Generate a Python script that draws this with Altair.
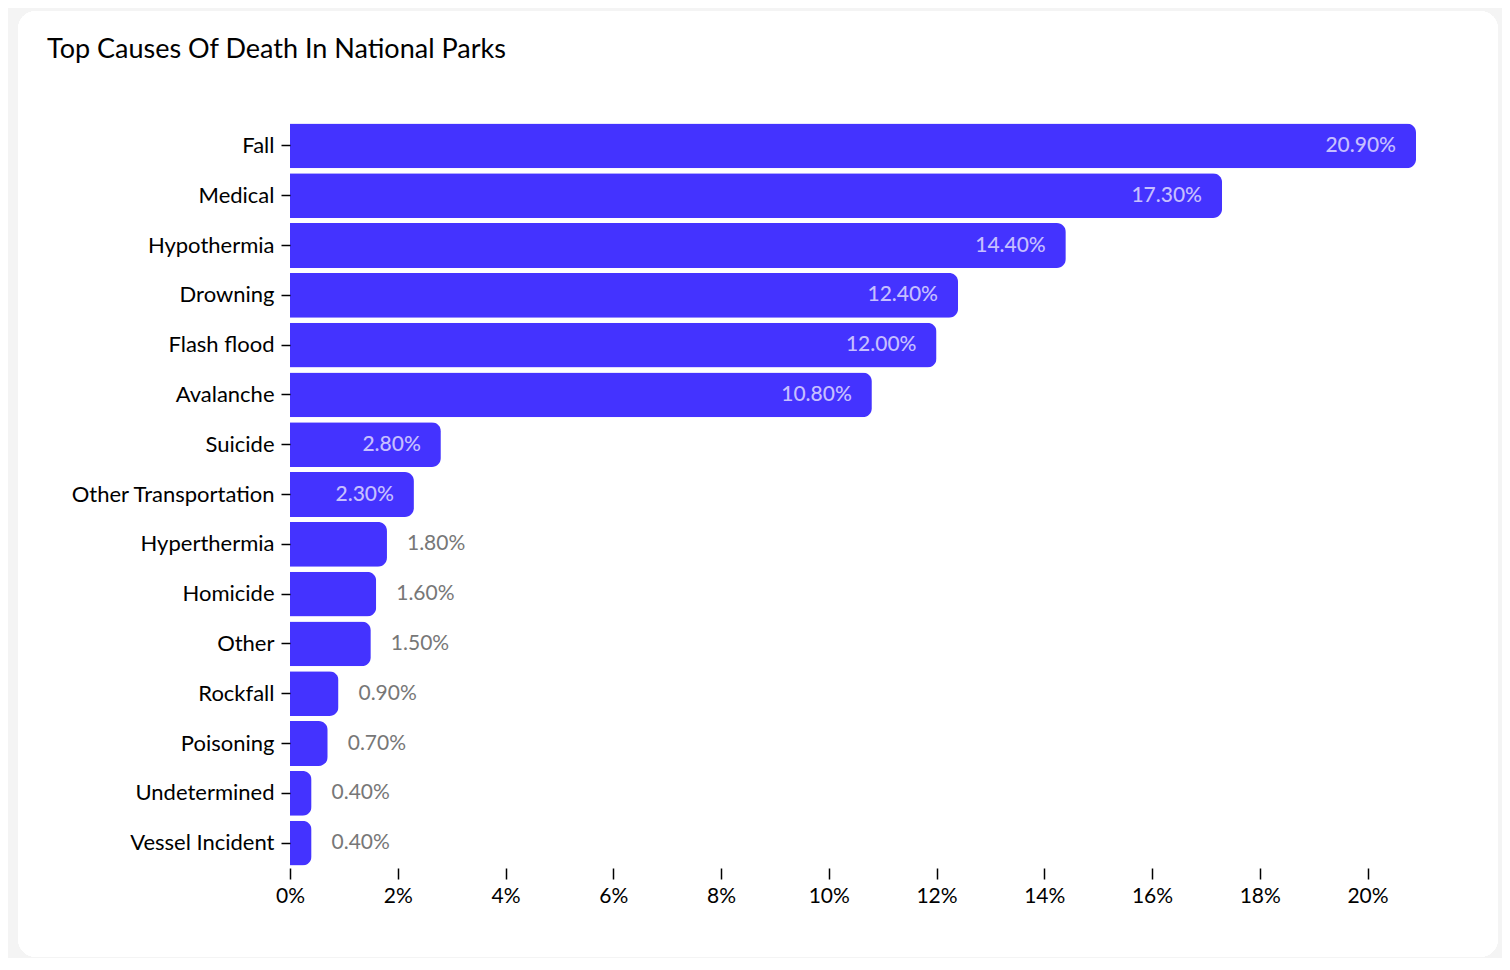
import pandas as pd
import altair as alt

# data
causes = ['Fall', 'Medical', 'Hypothermia', 'Drowning', 'Flash flood', 'Avalanche',
          'Suicide', 'Other Transportation', 'Hyperthermia', 'Homicide', 'Other',
          'Rockfall', 'Poisoning', 'Undetermined', 'Vessel Incident']
shares = [20.9, 17.3, 14.4, 12.4, 12.0, 10.8, 2.8, 2.3, 1.8, 1.6, 1.5, 0.9, 0.7, 0.4, 0.4]
tick_values = [0, 0.02, 0.04, 0.06, 0.08, 0.10, 0.12, 0.14, 0.16, 0.18, 0.20]

df = pd.DataFrame({'cause': causes, 'share': [s / 100 for s in shares]})
df['label'] = [f'{s:.2f}%' for s in shares]

FONT = 'Lato'
BLUE = '#4433ff'

y_enc = alt.Y('cause:N', sort=causes, title=None,
              scale=alt.Scale(paddingInner=0.1, paddingOuter=0.05),
              axis=alt.Axis(domain=False, ticks=True, tickSize=9, tickColor='#000',
                            tickWidth=1.5, labelFont=FONT, labelFontSize=22,
                            labelColor='#000', labelPadding=7, labelLimit=400, zindex=1))
x_enc = alt.X('share:Q', title=None,
              scale=alt.Scale(domain=[0, 0.209], nice=False),
              axis=alt.Axis(values=tick_values, format='.0%', domain=False, grid=False,
                            tickSize=11, tickColor='#000', tickWidth=1.5, labelFont=FONT,
                            labelFontSize=21, labelColor='#000', labelPadding=6,
                            labelFlush=False, zindex=1))

# white card behind everything
card = alt.Chart(df).mark_rect(color='white', cornerRadius=18).encode(
    x=alt.value(-272), x2=alt.value(1208), y=alt.value(-110), y2=alt.value(836))

bars = alt.Chart(df).mark_bar(color=BLUE, cornerRadiusEnd=9).encode(x=x_enc, y=y_enc)

inside = alt.Chart(df).transform_filter('datum.share >= 0.02').mark_text(
    align='right', dx=-20, font=FONT, fontSize=21, fontWeight=500, color='#c6bfff'
).encode(x='share:Q', y=alt.Y('cause:N', sort=causes), text='label:N')

outside = alt.Chart(df).transform_filter('datum.share < 0.02').mark_text(
    align='left', dx=20, font=FONT, fontSize=21, color='#777777'
).encode(x='share:Q', y=alt.Y('cause:N', sort=causes), text='label:N')

chart = (
    alt.layer(card, bars, inside, outside)
    .properties(width=1126, height=747,
                title=alt.TitleParams('Top Causes Of Death In National Parks', anchor='start',
                                      frame='bounds', font=FONT, fontSize=27,
                                      fontWeight='normal', color='#000', dx=29,
                                      offset=-53, zindex=1),
                autosize=alt.AutoSizeParams(type='none'),
                padding={'left': 282, 'top': 113, 'right': 86, 'bottom': 90},
                background='#f4f4f4')
    .configure_view(stroke=None)
)

chart.save('out.html', embed_options={'renderer': 'svg', 'actions': False})
